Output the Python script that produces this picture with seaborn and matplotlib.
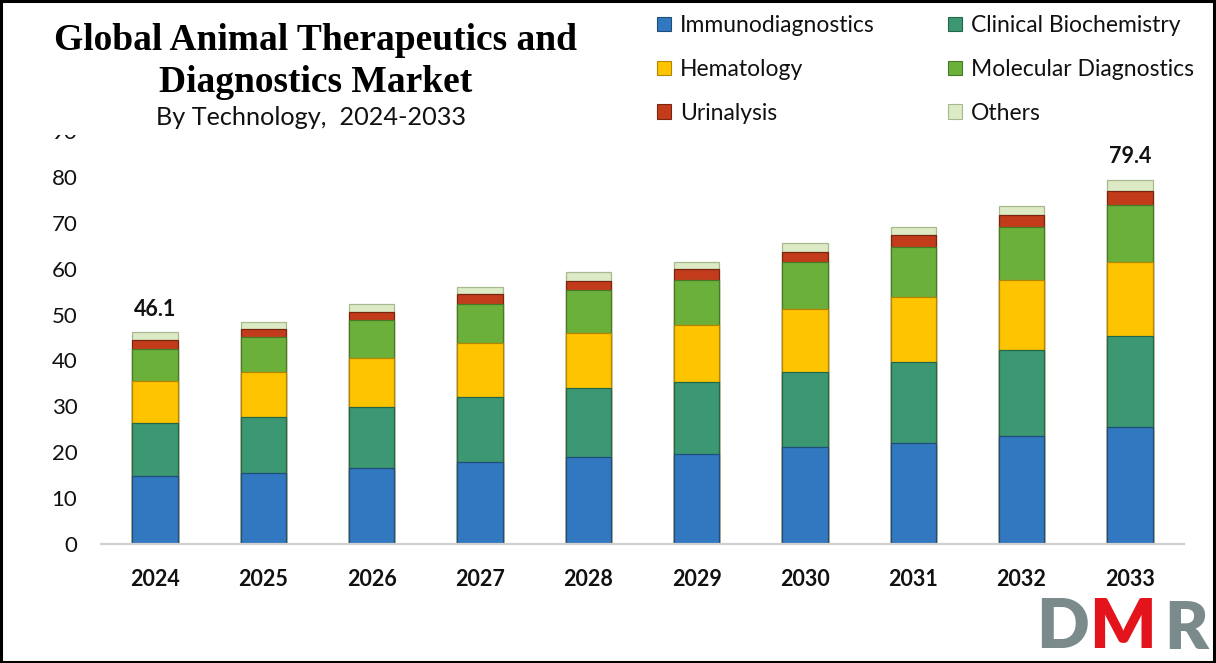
import numpy as np
import pandas as pd
import matplotlib
matplotlib.use("Agg")
import matplotlib.pyplot as plt
import seaborn as sns
from matplotlib.patches import Patch, Rectangle

# ---------------- data ----------------
years = ["2024", "2025", "2026", "2027", "2028", "2029", "2030", "2031", "2032", "2033"]
immunodiagnostics = [14.8, 15.5, 16.6, 17.9, 19.0, 19.6, 21.1, 22.0, 23.5, 25.5]
clinical_biochemistry = [11.5, 12.2, 13.3, 14.1, 15.0, 15.7, 16.4, 17.7, 18.8, 19.8]
hematology = [9.3, 9.8, 10.6, 11.8, 12.0, 12.4, 13.7, 14.1, 15.2, 16.2]
molecular_diagnostics = [7.0, 7.6, 8.3, 8.5, 9.4, 9.8, 10.3, 10.9, 11.6, 12.4]
urinalysis = [1.8, 1.8, 1.8, 2.2, 1.9, 2.4, 2.2, 2.7, 2.6, 3.0]
others = [1.7, 1.4, 1.7, 1.5, 2.0, 1.6, 1.9, 1.7, 2.0, 2.5]
series_names = ["Immunodiagnostics", "Clinical Biochemistry", "Hematology",
                "Molecular Diagnostics", "Urinalysis", "Others"]
total_labels = {"2024": "46.1", "2033": "79.4"}
y_ticks = [0, 10, 20, 30, 40, 50, 60, 70, 80, 90]

series_colors = ["#3278c0", "#3b9873", "#ffc400", "#6cb03c", "#c23c1c", "#dcebc6"]
edge_colors = ["#1f4e79", "#24664b", "#b38600", "#467a25", "#7a2510", "#a9b98f"]

# ---------------- style ----------------
sns.set_theme(style="white")
plt.rcParams['font.family'] = ['Lato', 'DejaVu Sans']

W, H = 1216, 663
fig = plt.figure(figsize=(W / 100, H / 100), dpi=100)
ax = fig.add_axes([101 / W, 1 - 544 / H, 1083 / W, (544 - 131) / H])

series = [immunodiagnostics, clinical_biochemistry, hematology,
          molecular_diagnostics, urinalysis, others]
cum = np.cumsum(np.array(series), axis=0)

for i in reversed(range(len(series))):
    df = pd.DataFrame({"year": years, "value": cum[i]})
    sns.barplot(data=df, x="year", y="value", color=series_colors[i], saturation=1,
                width=0.42, errorbar=None, edgecolor=edge_colors[i], linewidth=0.9,
                ax=ax)

ax.set_xlim(-0.5, len(years) - 0.5)
ax.set_ylim(0, 90)
ax.set_yticks(y_ticks)
ax.set_xlabel("")
ax.set_ylabel("")
for s in ["top", "right", "left"]:
    ax.spines[s].set_visible(False)
ax.spines["bottom"].set_color("#d0d0d0")
ax.spines["bottom"].set_linewidth(1.6)
ax.tick_params(axis="y", length=0, pad=17, labelsize=16, labelcolor="#111111")
ax.tick_params(axis="x", length=0, pad=18, labelsize=15.5, labelcolor="#111111")
for lab in ax.get_xticklabels():
    lab.set_fontweight("bold")

totals = cum[-1]
for idx, yr in enumerate(years):
    if yr in total_labels:
        ax.annotate(total_labels[yr], xy=(idx, totals[idx]), xytext=(0, 9),
                    textcoords="offset points", ha="center", va="bottom",
                    fontsize=15.5, fontweight="bold", color="#111111")

# ---------------- titles ----------------
# white title box that hides most of the top tick label, as in the reference
fig.patches.append(Rectangle((20 / W, 1 - 135 / H), 560 / W, 30 / H,
                             transform=fig.transFigure, facecolor="white",
                             edgecolor="none", zorder=5))
fig.text(316 / W, 1 - 50 / H, "Global Animal Therapeutics and", ha="center",
         va="baseline", family=["Liberation Serif"], fontweight="bold", fontsize=27,
         color="#000000", zorder=6)
fig.text(316 / W, 1 - 92 / H, "Diagnostics Market", ha="center",
         va="baseline", family=["Liberation Serif"], fontweight="bold", fontsize=27,
         color="#000000", zorder=6)
fig.text(311 / W, 1 - 125 / H, "By Technology,  2024-2033", ha="center",
         va="baseline", fontsize=18.2, color="#111111", zorder=6)

# ---------------- legend ----------------
handles = [Patch(facecolor=series_colors[i], edgecolor=edge_colors[i], linewidth=0.8)
           for i in range(len(series))]
col1 = [0, 2, 4]
col2 = [1, 3, 5]
for cols, x0 in [(col1, 657), (col2, 948)]:
    leg = fig.legend([handles[i] for i in cols], [series_names[i] for i in cols],
                     loc="upper left", bbox_to_anchor=(x0 / W, 1 - 15 / H),
                     frameon=False, fontsize=16.5, borderpad=0, borderaxespad=0,
                     handlelength=0.6, handleheight=0.6, handletextpad=0.4,
                     labelspacing=1.0)
    for t in leg.get_texts():
        t.set_color("#111111")

# ---------------- logo ----------------
fig.text(1036 / W, 1 - 660 / H, "D", ha="left", va="bottom", fontsize=50,
         fontweight="heavy", color="#7b8a8b")
fig.text(1089 / W, 1 - 660 / H, "M", ha="left", va="bottom", fontsize=50,
         fontweight="heavy", color="#e3141b")
fig.text(1164 / W, 1 - 660 / H, "R", ha="left", va="bottom", fontsize=48,
         fontweight="heavy", color="#7b8a8b")

# ---------------- frame ----------------
fig.patches.append(Rectangle((0.001, 0.002), 0.997, 0.996, transform=fig.transFigure,
                             fill=False, edgecolor="black", linewidth=2.2, zorder=20))

fig.savefig("out.png", dpi=100, facecolor="white")
